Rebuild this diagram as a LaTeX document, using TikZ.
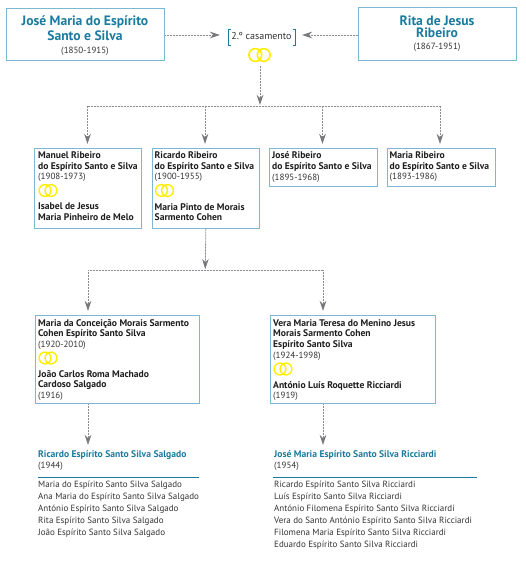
\documentclass[tikz,border=0pt]{standalone}
\usepackage{fontspec}
\setmainfont{PT Sans}
\usetikzlibrary{arrows.meta}
\definecolor{boxblue}{HTML}{7DB8D2}
\definecolor{headblue}{HTML}{1A7B9E}
\definecolor{ringy}{HTML}{FFEE00}
\definecolor{txt}{HTML}{333333}
\definecolor{boldtxt}{HTML}{1E1E1E}
\definecolor{conn}{HTML}{77787B}
\tikzset{
  famebox/.style={draw=boxblue,line width=1.2pt,fill=white,anchor=north west,inner sep=0pt},
  conn/.style={draw=conn!85,dash pattern=on .9pt off .6pt,line width=.8pt},
  arr/.style={conn,-{Stealth[length=10pt,width=6.5pt,color=conn]}},
  lbl/.style={anchor=north west,inner sep=0pt,align=left,text=txt,font=\fontsize{9}{10.7}\selectfont},
  listing/.style={lbl,font=\fontsize{9}{12}\selectfont},
  head/.style={anchor=center,inner sep=0pt,align=center,text=headblue,font=\fontsize{13.6}{14.6}\selectfont\bfseries},
  ring/.style={draw=ringy,line width=1.4pt},
}
\newcommand{\bb}[1]{{\fontsize{9.6}{10.7}\selectfont\bfseries\color{boldtxt}#1}}
\newcommand{\bc}[1]{{\fontsize{9.6}{10.7}\selectfont\bfseries\color{headblue}#1}}
\newcommand{\rings}[2]{\draw[ring] (#1,#2) circle[radius=5.9pt] (#1+6,#2) circle[radius=5.9pt];}
\begin{document}
\begin{tikzpicture}[x=1pt,y=-1pt]
\useasboundingbox (0,0) rectangle (526,561);
% top
\node[famebox,minimum width=158pt,minimum height=52pt] (jose) at (6,8) {};
\node[famebox,minimum width=158pt,minimum height=53pt] (rita) at (358,7) {};
\node[head] (josen) at (85,28.5) {José Maria do Espírito\\Santo e Silva};
\node[lbl,anchor=center] (josey) at (85,51) {(1850-1915)};
\node[head,font=\fontsize{13.6}{12.4}\selectfont\bfseries] (ritan) at (437,26.5) {Rita de Jesus\\Ribeiro};
\node[lbl,anchor=center] (ritay) at (437,47.5) {(1867-1951)};
\node[lbl,anchor=center,font=\fontsize{10}{11}\selectfont] (cas) at (261.5,36.5) {2.º casamento};
\draw[draw=headblue,line width=.9pt] (230.5,29)--(228.5,29)--(228.5,45.5)--(230.5,45.5);
\draw[draw=headblue,line width=.9pt] (293,29)--(295,29)--(295,45.5)--(293,45.5);
\draw[ring,line width=1.6pt] (255.3,55) circle[radius=6.4pt] (263.7,55) circle[radius=6.4pt];
\coordinate (casl) at (220,35);
\coordinate (casr) at (302,35);
\coordinate (casd) at (260,66);
\draw[arr] (jose.east|-casl) -- (casl);
\draw[arr] (rita.west|-casr) -- (casr);
\draw[arr] (casd) -- (260,105);
% row 2
\node[famebox,minimum width=107pt,minimum height=80pt] (b1) at (34,148) {};
\node[famebox,minimum width=107.5pt,minimum height=80pt] (b2) at (151.5,148) {};
\node[famebox,minimum width=108pt,minimum height=38pt] (b3) at (268.5,148) {};
\node[famebox,minimum width=108pt,minimum height=38pt] (b4) at (386.5,148) {};
\coordinate (bl) at (87.5,106);
\coordinate (br) at (440,106);
\draw[conn] (bl) -- (br);
\draw[arr] (bl) -- (87.5,144);
\draw[arr] (205,106) -- (205,144);
\draw[arr] (322.5,106) -- (322.5,144);
\draw[arr] (br) -- (440,144);
\node[lbl] (t1) at (38,151.5) {\bb{Manuel Ribeiro}\\\bb{do Espírito Santo e Silva}\\(1908-1973)};
\rings{45}{190.5}
\node[lbl] (t1b) at (38,203) {\bb{Isabel de Jesus}\\\bb{Maria Pinheiro de Melo}};
\node[lbl] (t2) at (154.5,151.5) {\bb{Ricardo Ribeiro}\\\bb{do Espírito Santo e Silva}\\(1900-1955)};
\rings{161.5}{190.5}
\node[lbl] (t2b) at (154.5,203) {\bb{Maria Pinto de Morais}\\\bb{Sarmento Cohen}};
\node[lbl] (t3) at (272,151.5) {\bb{José Ribeiro}\\\bb{do Espírito Santo e Silva}\\(1895-1968)};
\node[lbl] (t4) at (389.5,151.5) {\bb{Maria Ribeiro}\\\bb{do Espírito Santo e Silva}\\(1893-1986)};
% row 3
\node[famebox,minimum width=164.5pt,minimum height=88pt] (c1) at (34.5,315) {};
\node[famebox,minimum width=165pt,minimum height=88pt] (c2) at (269.5,315) {};
\coordinate (cl) at (88,270);
\coordinate (cr) at (323,270);
\draw[arr] (b2.south) -- (205.25,269);
\draw[conn] (cl) -- (cr);
\draw[arr] (cl) -- (88,311);
\draw[arr] (cr) -- (323,311);
\node[lbl] (t5) at (38,319) {\bb{Maria da Conceição Morais Sarmento}\\\bb{Cohen Espírito Santo Silva}\\(1920-2010)};
\rings{45}{358}
\node[lbl] (t5b) at (38,370) {\bb{João Carlos Roma Machado}\\\bb{Cardoso Salgado}\\(1916)};
\node[lbl] (t6) at (273,319) {\bb{Vera Maria Teresa do Menino Jesus}\\\bb{Morais Sarmento Cohen}\\\bb{Espírito Santo Silva}\\(1924-1998)};
\rings{280}{369}
\node[lbl] (t6b) at (273,381) {\bb{António Luís Roquette Ricciardi}\\(1919)};
% bottom
\draw[arr] (c1.south-|cl) -- (88,445);
\draw[arr] (c2.south-|cr) -- (323,445);
\node[lbl] (t7) at (38,450.5) {\bc{Ricardo Espírito Santo Silva Salgado}\\(1944)};
\draw[draw=headblue,line width=.8pt] (38,477) -- (199,477);
\node[listing] (t7n) at (38,481) {Maria do Espírito Santo Silva Salgado\\Ana Maria do Espírito Santo Silva Salgado\\António Espírito Santo Silva Salgado\\Rita Espírito Santo Silva Salgado\\João Espírito Santo Silva Salgado};
\node[lbl] (t8) at (274,450.5) {\bc{José Maria Espírito Santo Silva Ricciardi}\\(1954)};
\draw[draw=headblue,line width=.8pt] (272.5,477) -- (477,477);
\node[listing] (t8n) at (274,481) {Ricardo Espírito Santo Silva Ricciardi\\Luís Espírito Santo Silva Ricciardi\\António Filomena Espírito Santo Silva Ricciardi\\Vera do Santo António Espírito Santo Silva Ricciardi\\Filomena Maria Espírito Santo Silva Ricciardi\\Eduardo Espírito Santo Silva Ricciardi};
\end{tikzpicture}
\end{document}
